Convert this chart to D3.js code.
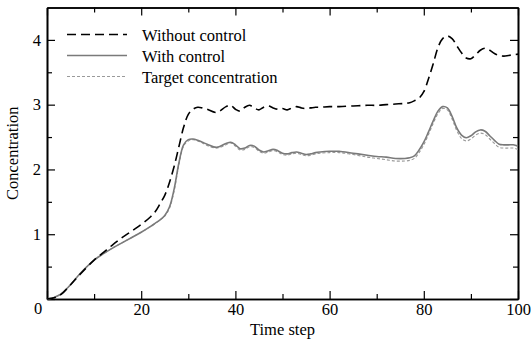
<!DOCTYPE html>
<html>
<head>
<meta charset="utf-8">
<script src="https://cdn.jsdelivr.net/npm/d3@7"></script>
<style>
  body { margin: 0; background: #fff; }
</style>
</head>
<body>
<svg id="chart" width="531" height="343"></svg>
<script>
const steps = [0,1,2,3,5,7,10,12,14,16,18,20,22,23,24,25,26,27,28,29,30,31,32,33,34,36,38,39,40,41,42,43,44,45,46,47,48,49,50,51,52,53,54,55,56,57,58,60,62,65,68,70,72,74,76,77,78,79,80,81,82,83,84,85,86,87,88,89,90,91,92,93,94,95,96,97,98,99,100];

const withoutControl = [0,0.01,0.03,0.07,0.22,0.38,0.6,0.72,0.84,0.95,1.05,1.15,1.27,1.35,1.47,1.6,1.8,2.05,2.35,2.65,2.85,2.93,2.96,2.95,2.93,2.88,2.97,2.99,2.93,2.9,2.96,2.99,2.95,2.92,2.96,2.98,2.95,2.93,2.94,2.92,2.95,2.97,2.95,2.94,2.95,2.96,2.96,2.97,2.97,2.98,2.99,2.99,3.0,3.01,3.02,3.03,3.06,3.1,3.2,3.4,3.63,3.88,4.02,4.06,4.02,3.91,3.8,3.72,3.71,3.77,3.84,3.87,3.84,3.79,3.76,3.75,3.76,3.77,3.78];

const withControl = [0,0.01,0.04,0.08,0.22,0.39,0.6,0.7,0.79,0.87,0.95,1.03,1.12,1.17,1.22,1.29,1.42,1.7,2.1,2.38,2.46,2.47,2.45,2.42,2.39,2.34,2.4,2.42,2.38,2.32,2.33,2.37,2.36,2.3,2.27,2.29,2.31,2.29,2.25,2.24,2.26,2.27,2.25,2.23,2.24,2.26,2.27,2.28,2.28,2.25,2.22,2.2,2.19,2.17,2.17,2.18,2.21,2.3,2.42,2.58,2.75,2.9,2.97,2.95,2.82,2.64,2.53,2.49,2.52,2.58,2.61,2.59,2.52,2.45,2.39,2.38,2.38,2.38,2.36];

const target = [0,0.01,0.04,0.08,0.22,0.39,0.6,0.7,0.79,0.87,0.95,1.03,1.12,1.17,1.22,1.28,1.4,1.67,2.07,2.36,2.44,2.46,2.44,2.41,2.37,2.33,2.38,2.41,2.36,2.3,2.31,2.35,2.34,2.28,2.25,2.27,2.29,2.27,2.23,2.22,2.24,2.25,2.23,2.21,2.22,2.24,2.25,2.26,2.26,2.23,2.19,2.17,2.15,2.13,2.13,2.14,2.17,2.26,2.38,2.54,2.71,2.86,2.94,2.92,2.78,2.6,2.48,2.44,2.47,2.53,2.56,2.54,2.47,2.4,2.34,2.33,2.33,2.33,2.31];

const xTicks = [0,20,40,60,80,100];
const xMinor = [10,30,50,70,90];
const yTicks = [0,1,2,3,4];
const yMinor = [0.5,1.5,2.5,3.5];
const legendLabels = ["Without control","With control","Target concentration"];

const margin = {top: 7.5, right: 13, bottom: 44, left: 47};
const width = 531 - margin.left - margin.right,
      height = 343 - margin.top - margin.bottom;
const fontSize = 16.5;
const serif = "'Liberation Serif', 'Times New Roman', Times, serif";

const svg = d3.select("#chart");
const g = svg.append("g")
  .attr("transform", "translate(" + margin.left + "," + margin.top + ")");

const x = d3.scaleLinear().domain([0, 100]).range([0, width]);
const y = d3.scaleLinear().domain([0, 4.5]).range([height, 0]);

// axes - ticks point inward on all four sides
const hideZero = d => (d === 0 ? "" : d);

g.append("g").attr("class", "ax")
  .attr("transform", "translate(0," + height + ")")
  .call(d3.axisBottom(x).tickValues(xTicks).tickSize(-8).tickSizeOuter(0).tickPadding(4).tickFormat(hideZero));
g.append("g").attr("class", "ax")
  .attr("transform", "translate(0," + height + ")")
  .call(d3.axisBottom(x).tickValues(xMinor).tickSize(-5).tickSizeOuter(0).tickFormat(""));
g.append("g").attr("class", "ax")
  .call(d3.axisTop(x).tickValues(xTicks).tickSize(-8).tickSizeOuter(0).tickFormat(""));
g.append("g").attr("class", "ax")
  .call(d3.axisTop(x).tickValues(xMinor).tickSize(-5).tickSizeOuter(0).tickFormat(""));

g.append("g").attr("class", "ax")
  .call(d3.axisLeft(y).tickValues(yTicks).tickSize(-8).tickSizeOuter(0).tickPadding(6).tickFormat(hideZero));
g.append("g").attr("class", "ax")
  .call(d3.axisLeft(y).tickValues(yMinor).tickSize(-5).tickSizeOuter(0).tickFormat(""));
g.append("g").attr("class", "ax")
  .attr("transform", "translate(" + width + ",0)")
  .call(d3.axisRight(y).tickValues(yTicks).tickSize(-8).tickSizeOuter(0).tickFormat(""));
g.append("g").attr("class", "ax")
  .attr("transform", "translate(" + width + ",0)")
  .call(d3.axisRight(y).tickValues(yMinor).tickSize(-5).tickSizeOuter(0).tickFormat(""));

g.selectAll(".ax .domain").attr("stroke", "#000").attr("stroke-width", 1.6);
g.selectAll(".ax .tick line").attr("stroke", "#000").attr("stroke-width", 1.2);
g.selectAll(".ax text").attr("font-size", fontSize).attr("fill", "#000");

// shared zero label at the corner
g.append("text")
  .attr("x", x(0) - 9).attr("y", y(0) + 14.5)
  .attr("text-anchor", "middle")
  .attr("font-size", fontSize)
  .text("0");

// axis titles
g.append("text")
  .attr("x", width / 2).attr("y", height + 36)
  .attr("text-anchor", "middle")
  .attr("font-size", fontSize)
  .text("Time step");

g.append("text")
  .attr("transform", "translate(" + (-29) + "," + (height / 2) + ") rotate(-90)")
  .attr("text-anchor", "middle")
  .attr("font-size", fontSize)
  .text("Concentration");

// lines
const series = [
  {vals: withoutControl, color: "#000", w: 1.6, dash: "9,5"},
  {vals: withControl, color: "#7a7a7a", w: 1.6, dash: null},
  {vals: target, color: "#9a9a9a", w: 1.1, dash: "3,2"}
];

const line = d3.line()
  .x(d => x(d[0]))
  .y(d => y(d[1]))
  .curve(d3.curveCatmullRom);

// draw target first then solid, dashed on top
[series[2], series[1], series[0]].forEach(s => {
  g.append("path")
    .datum(steps.map((t, i) => [t, s.vals[i]]))
    .attr("fill", "none")
    .attr("stroke", s.color)
    .attr("stroke-width", s.w)
    .attr("stroke-dasharray", s.dash)
    .attr("d", line);
});

// legend
const legend = g.append("g").attr("transform", "translate(20,27)");
series.forEach((s, i) => {
  const row = legend.append("g").attr("transform", "translate(0," + (i * 21) + ")");
  row.append("line")
    .attr("x1", 0).attr("x2", 60)
    .attr("stroke", s.color)
    .attr("stroke-width", s.w)
    .attr("stroke-dasharray", s.dash);
  row.append("text")
    .attr("x", 75).attr("y", 6)
    .attr("font-size", fontSize)
    .text(legendLabels[i]);
});

// every label in a Times-like face
svg.selectAll("text").style("font-family", serif);
</script>
</body>
</html>
